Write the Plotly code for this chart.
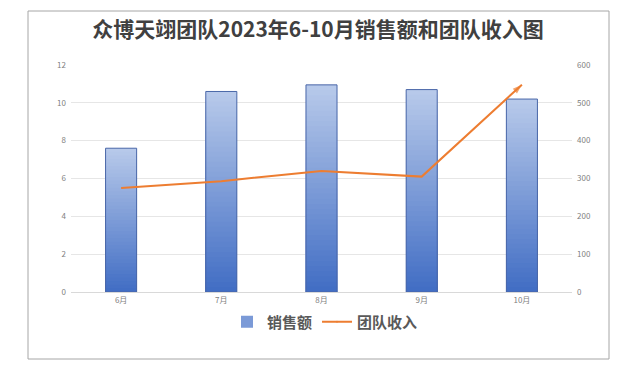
import plotly.graph_objects as go

months = ["6月", "7月", "8月", "9月", "10月"]
sales = [7.6, 10.6, 10.95, 10.7, 10.2]
income = [275, 293, 320, 305, 548]
left_ticks = [0, 2, 4, 6, 8, 10, 12]
right_ticks = [0, 100, 200, 300, 400, 500, 600]

FONT = "Noto Sans CJK SC, Noto Sans, sans-serif"
top_c = (183, 201, 234)
bot_c = (66, 110, 196)
N = 40

def mix(f):
    r = [round(top_c[k] + (bot_c[k] - top_c[k]) * f) for k in range(3)]
    return "rgb(%d,%d,%d)" % tuple(r)

W, H = 626, 368
L, T, PW, PH = 63, 57, 501, 227

fig = go.Figure()
for i in range(N):
    frac = (N - i) / N
    fig.add_trace(go.Bar(
        x=months, y=[v * frac for v in sales],
        marker=dict(color=mix(i / (N - 1)), line=dict(width=0)),
        width=0.31, name="销售额",
        showlegend=(i == N // 2), legendgroup="s", hoverinfo="skip",
    ))
# outline
fig.add_trace(go.Bar(
    x=months, y=sales, width=0.31,
    marker=dict(color="rgba(0,0,0,0)", line=dict(color="#4a67a8", width=1)),
    showlegend=False, legendgroup="s", name="销售额",
))

fig.add_trace(go.Scatter(
    x=months, y=income, yaxis="y2", name="团队收入",
    mode="lines+markers",
    line=dict(color="#ED7D31", width=2),
    marker=dict(symbol=["circle"] * 4 + ["arrow"], size=[0, 0, 0, 0, 10],
                angleref="previous", color="#ED7D31", line=dict(width=0)),
))

fig.update_layout(
    width=W, height=H,
    barmode="overlay",
    paper_bgcolor="white", plot_bgcolor="white",
    margin=dict(l=L, r=W - L - PW, t=T, b=H - T - PH),
    font=dict(family=FONT, color="#808080", size=8),
    title=dict(text="<b>众博天翊团队2023年6-10月销售额和团队收入图</b>",
               x=(318 - 8 - L) / PW, xanchor="center",
               y=1 - 22 / H, yanchor="middle", xref="paper",
               font=dict(family=FONT, size=21, color="#404040")),
    xaxis=dict(showgrid=False, showline=True, linecolor="#D9D9D9", linewidth=1,
               ticks="", tickfont=dict(size=8, color="#808080")),
    yaxis=dict(range=[0, 12], tickvals=left_ticks, showgrid=True,
               gridcolor="#E6E6E6", gridwidth=1, zeroline=False, ticks="",
               ticklabelstandoff=4, tickfont=dict(size=8, color="#808080")),
    yaxis2=dict(range=[0, 600], tickvals=right_ticks, overlaying="y", side="right",
                showgrid=False, zeroline=False, ticks="", ticklabelstandoff=4,
                tickfont=dict(size=8, color="#808080")),
    legend=dict(orientation="h", x=(325 - 8 - L) / PW, xanchor="center",
                y=-(322 - 8 - (T + PH)) / PH, yanchor="middle",
                bgcolor="rgba(0,0,0,0)",
                font=dict(family=FONT, size=15, color="#595959", weight="bold"),
                itemwidth=30, traceorder="normal"),
    shapes=[dict(type="rect", xref="paper", yref="paper",
                 x0=(20 - L) / PW, x1=(601 - L) / PW,
                 y0=-(351 - (T + PH)) / PH, y1=((T + PH) - 3) / PH,
                 line=dict(color="#A6A6A6", width=1), layer="below")],
)

fig.write_html("out.html")
